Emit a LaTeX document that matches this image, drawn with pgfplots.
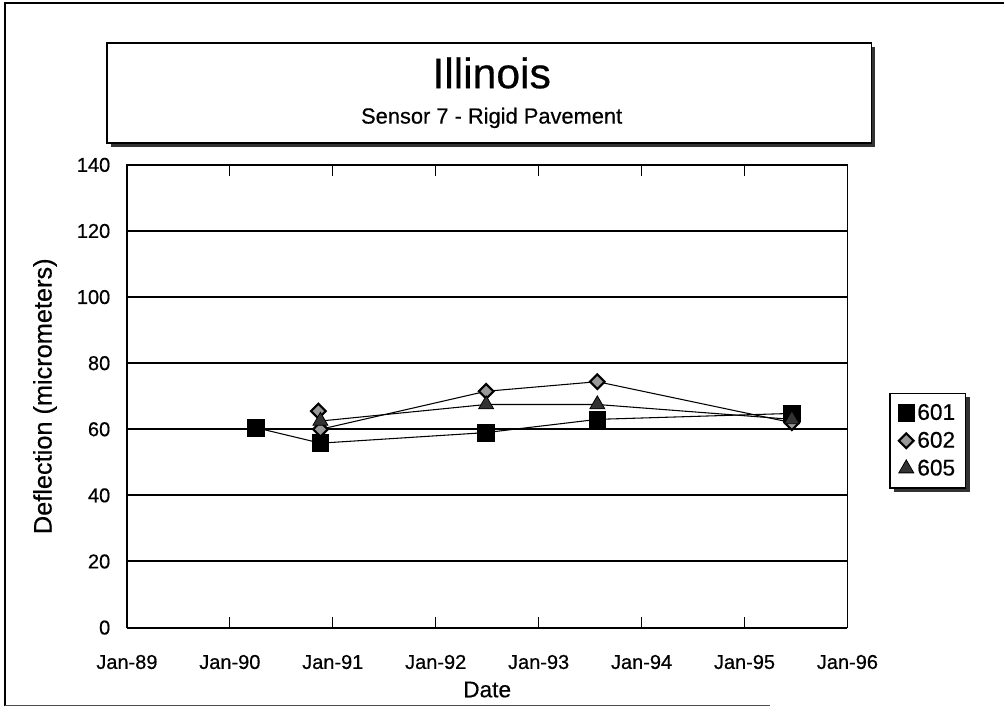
\documentclass[border=0pt]{standalone}
\usepackage{pgfplots}
\pgfplotsset{compat=1.18}
\usepackage{fontspec}
\setmainfont{Liberation Sans}[FakeBold=0.5]
\usetikzlibrary{shadows}
\begin{document}
\begin{tikzpicture}[x=0.75pt,y=0.75pt]
\path (0,0) rectangle (1005,720);
% outer frame
\draw[line width=1pt] (5,14) -- (5,717) -- (1005,717);
\draw[line width=1pt, black!70] (5,14) -- (770,14);
% title box
\fill[black!80] (111,573) rectangle (876,673);
\draw[line width=1pt, fill=white] (107,577) rectangle (872,677);
\node[font=\fontsize{32}{36}\selectfont] at (492,647) {Illinois};
\node[font=\fontsize{16.4}{18}\selectfont] at (492,602) {Sensor 7 - Rigid Pavement};
\begin{axis}[
  at={(95.25pt,69pt)}, anchor=south west,
  scale only axis, width=540.75pt, height=347.25pt,
  xmin=1989, xmax=1996, ymin=0, ymax=140,
  xtick={1989,1990,1991,1992,1993,1994,1995,1996},
  xticklabels={Jan-89,Jan-90,Jan-91,Jan-92,Jan-93,Jan-94,Jan-95,Jan-96},
  ytick={0,20,40,60,80,100,120,140},
  /pgf/number format/assume math mode=true,
  ymajorgrids, major grid style={black, line width=1.5pt},
  axis line style={line width=0.9pt},
  tick align=inside,
  major tick length=8pt,
  x tick style={black, line width=0.8pt},
  y tick style={draw=none},
  tick label style={font=\fontsize{15}{17}\selectfont},
  xticklabel style={yshift=-17pt},
  yticklabel style={xshift=-9pt},
  xlabel={Date}, ylabel={Deflection (micrometers)},
  label style={font=\fontsize{17}{19}\selectfont},
  ylabel style={font=\fontsize{19}{21}\selectfont, at={(axis description cs:-0.1137,0.5)}, anchor=center},
  xlabel style={at={(axis description cs:0.5,-0.134)}, anchor=center},
  legend style={at={(axis description cs:1.058,0.5076)}, anchor=north west,
    draw=black, line width=1pt, fill=white,
    font=\fontsize{17}{19}\selectfont, row sep=3.5pt, inner xsep=6pt, inner ysep=6pt,
    drop shadow={shadow xshift=3pt, shadow yshift=-3pt, fill=black!80, opacity=1},
    /tikz/every even column/.append style={column sep=5pt}},
  legend cell align=left,
  legend image code/.code={\draw[#1, only marks] plot coordinates {(0.2cm,0cm)};},
]
\addplot[black, line width=0.8pt, mark=square*, mark size=6.3pt, mark options={fill=black, draw=black, line width=0.5pt}]
  coordinates {(1990.25,60.5) (1990.88,55.8) (1992.49,59) (1993.57,63) (1995.46,64.8)};
\addlegendentry{601}
\addplot[black, line width=0.8pt, mark=square*, mark size=3.9pt, mark options={rotate=45, fill=black!40, draw=black, line width=1.6pt}]
  coordinates {(1990.86,65.5) (1990.88,60) (1992.49,71.5) (1993.57,74.4) (1995.46,62)};
\addlegendentry{602}
\addplot[black, line width=0.8pt, mark=triangle*, mark size=6.5pt, mark options={fill=black!80, draw=black, line width=0.6pt}]
  coordinates {(1990.88,62.5) (1992.49,67.5) (1993.57,67.5) (1995.46,63)};
\addlegendentry{605}
\end{axis}
\end{tikzpicture}
\end{document}
